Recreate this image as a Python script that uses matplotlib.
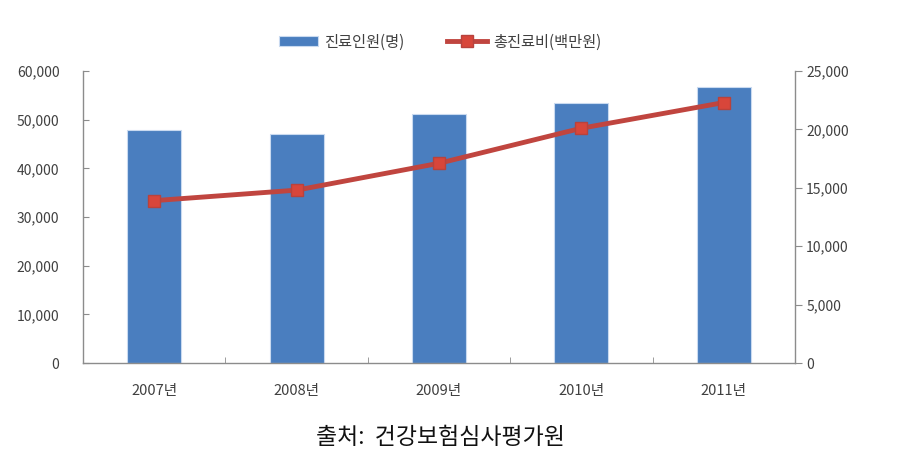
import matplotlib.pyplot as plt
import numpy as np

plt.rcParams['font.family'] = ['Noto Sans CJK KR', 'DejaVu Sans']

# 데이터
years = ['2007년', '2008년', '2009년', '2010년', '2011년']
patients = [47800, 47000, 51200, 53500, 56800]      # 진료인원(명)
costs = [13900, 14800, 17100, 20100, 22300]         # 총진료비(백만원)

fig = plt.figure(figsize=(9.03, 4.61), dpi=100)
ax = fig.add_axes([83/903, 1-363/461, 712/903, 292/461])
x = np.arange(len(years))

bars = ax.bar(x, patients, width=0.38, color='#4A7EBF', edgecolor='#C9DAF0',
              linewidth=0.8, label='진료인원(명)', zorder=2)
ax.set_xlim(-0.5, len(years) - 0.5)
ax.set_ylim(0, 60000)
ax.set_yticks(range(0, 60001, 10000))
ax.set_yticklabels([f'{v:,}' for v in range(0, 60001, 10000)])

ax2 = ax.twinx()
line, = ax2.plot(x, costs, color='#C0453F', lw=3.5, marker='s', ms=9,
                 mfc='#D8463A', mec='#B8423C', label='총진료비(백만원)', zorder=3)
ax2.set_ylim(0, 25000)
ax2.set_yticks(range(0, 25001, 5000))
ax2.set_yticklabels([f'{v:,}' for v in range(0, 25001, 5000)])

ax.set_xticks(x)
ax.set_xticklabels(years)
ax.set_xticks(np.arange(-0.5, len(years), 1), minor=True)

for a in (ax, ax2):
    a.spines['top'].set_visible(False)
    for s in a.spines.values():
        s.set_color('#8C8C8C')
        s.set_linewidth(1.0)
ax.spines['right'].set_visible(False)
ax2.spines['left'].set_visible(False)
ax2.spines['bottom'].set_visible(False)

ax.tick_params(axis='x', which='major', length=0, pad=15, labelsize=10.5, labelcolor='#404040')
ax.tick_params(axis='x', which='minor', length=4, direction='in', color='#8C8C8C')
ax.tick_params(axis='y', length=4, direction='in', color='#8C8C8C', pad=17,
               labelsize=10, labelcolor='#404040')
ax2.tick_params(axis='y', length=5, color='#8C8C8C', pad=3,
                labelsize=10, labelcolor='#404040')
ax.set_zorder(ax2.get_zorder() - 1)
ax2.patch.set_visible(False)

fig.legend([bars, line], ['진료인원(명)', '총진료비(백만원)'], loc='center',
           bbox_to_anchor=(440/903, 1-42/461), ncol=2, frameon=False,
           fontsize=11, handlelength=2.6, handletextpad=0.4, columnspacing=2.8,
           labelcolor='#404040')

fig.text(440/903, 1-437/461, '출처:  건강보험심사평가원', ha='center', va='center',
         fontsize=16.5, color='#111111')

fig.savefig('out.png', dpi=100)
